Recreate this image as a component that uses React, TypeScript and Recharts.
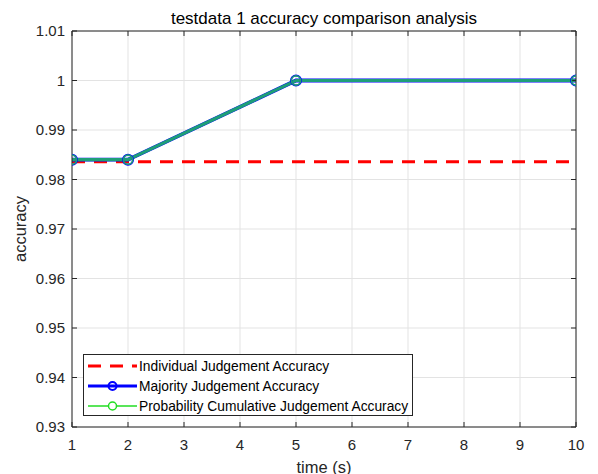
import { CartesianGrid, Label, Legend, Line, LineChart, XAxis, YAxis } from "recharts";

const times = [1, 2, 5, 10];
const individualAccuracy = [0.9836, 0.9836, 0.9836, 0.9836];
const majorityAccuracy = [0.984, 0.984, 1, 1];
const probabilityAccuracy = [0.984, 0.984, 1, 1];

const xTicks = [1, 2, 3, 4, 5, 6, 7, 8, 9, 10];
const yTicks = [0.93, 0.94, 0.95, 0.96, 0.97, 0.98, 0.99, 1, 1.01];

const seriesNames = {
  individual: "Individual Judgement Accuracy",
  majority: "Majority Judgement Accuracy",
  probability: "Probability Cumulative Judgement Accuracy",
};

const title = "testdata 1 accuracy comparison analysis";
const xLabel = "time (s)";
const yLabel = "accuracy";

const font = "'Liberation Sans', Arial, sans-serif";
const axisColor = "#262626";
const tealGreen = "#1e9e78";

const data = times.map((t, i) => ({
  t,
  individual: individualAccuracy[i],
  majority: majorityAccuracy[i],
  probability: probabilityAccuracy[i],
}));

function formatY(value: number): string {
  return String(parseFloat(value.toFixed(2)));
}

function renderTitle(props: any) {
  const vb = props.viewBox;
  return (
    <text x={vb.x + vb.width / 2} y={vb.y - 6} textAnchor="middle" fontSize={17} fontFamily={font} fill="#000">
      {title}
    </text>
  );
}

function renderXLabel(props: any) {
  const vb = props.viewBox;
  return (
    <text x={vb.x + vb.width / 2} y={vb.y + 45.5} textAnchor="middle" fontSize={16.5} fontFamily={font} fill={axisColor}>
      {xLabel}
    </text>
  );
}

function renderYLabel(props: any) {
  const vb = props.viewBox;
  const x = vb.x + 25.6;
  const y = vb.y + vb.height / 2;
  return (
    <text x={x} y={y} textAnchor="middle" fontSize={16.5} fontFamily={font} fill={axisColor} transform={`rotate(-90, ${x}, ${y})`}>
      {yLabel}
    </text>
  );
}

function LegendSample({ dataKey }: { dataKey: string }) {
  if (dataKey === "individual") {
    return <line x1={4} x2={53} y1={10} y2={10} stroke="#ff0000" strokeWidth={3} strokeDasharray="13 9" />;
  }
  if (dataKey === "majority") {
    return (
      <g>
        <line x1={4} x2={53} y1={10} y2={10} stroke="#0000ff" strokeWidth={3} />
        <circle cx={28.5} cy={10} r={4} stroke="#0000ff" strokeWidth={2} fill="none" />
      </g>
    );
  }
  return (
    <g>
      <line x1={4} x2={53} y1={10} y2={10} stroke="#22dd22" strokeWidth={1.5} />
      <circle cx={28.5} cy={10} r={4} stroke="#22dd22" strokeWidth={1.5} fill="#fff" />
    </g>
  );
}

function renderLegend(props: any) {
  const payload = props.payload || [];
  return (
    <div
      style={{
        width: 330,
        height: 62,
        boxSizing: "border-box",
        border: `1px solid ${axisColor}`,
        background: "#fff",
        position: "relative",
      }}
    >
      {payload.map((entry: any, i: number) => (
        <div
          key={entry.dataKey}
          style={{ position: "absolute", left: 0, top: 1 + i * 20, height: 20, display: "flex", alignItems: "center" }}
        >
          <svg width={55} height={20} style={{ display: "block" }}>
            <LegendSample dataKey={entry.dataKey} />
          </svg>
          <span style={{ fontSize: 13.8, fontFamily: font, color: "#000", whiteSpace: "nowrap" }}>{entry.value}</span>
        </div>
      ))}
    </div>
  );
}

export default function App() {
  const tickStyle = { fill: axisColor, fontSize: 15, fontFamily: font };
  return (
    <div style={{ position: "absolute", left: 0, top: 0, background: "#fff" }}>
      <LineChart width={598} height={474} data={data} margin={{ top: 30, right: 21, bottom: 0, left: 0 }}>
        <CartesianGrid stroke="#e3e3e3" />
        <XAxis
          dataKey="t"
          type="number"
          domain={[1, 10]}
          ticks={xTicks}
          allowDataOverflow
          height={47}
          tickSize={-5}
          tickMargin={17}
          tick={tickStyle}
          axisLine={{ stroke: axisColor }}
          tickLine={{ stroke: axisColor }}
        >
          <Label content={renderXLabel} />
        </XAxis>
        <XAxis
          xAxisId="top"
          dataKey="t"
          orientation="top"
          type="number"
          domain={[1, 10]}
          ticks={xTicks}
          allowDataOverflow
          height={1}
          tickSize={-5}
          tickFormatter={() => ""}
          axisLine={{ stroke: axisColor }}
          tickLine={{ stroke: axisColor }}
        >
          <Label content={renderTitle} />
        </XAxis>
        <YAxis
          type="number"
          domain={[0.93, 1.01]}
          ticks={yTicks}
          allowDataOverflow
          width={72}
          tickSize={-5}
          tickMargin={12}
          tickFormatter={formatY}
          tick={tickStyle}
          axisLine={{ stroke: axisColor }}
          tickLine={{ stroke: axisColor }}
        >
          <Label content={renderYLabel} />
        </YAxis>
        <YAxis
          yAxisId="right"
          orientation="right"
          type="number"
          domain={[0.93, 1.01]}
          ticks={yTicks}
          allowDataOverflow
          width={1}
          tickSize={-5}
          tickFormatter={() => ""}
          axisLine={{ stroke: axisColor }}
          tickLine={{ stroke: axisColor }}
        />
        <Legend
          layout="horizontal"
          verticalAlign="middle"
          align="center"
          content={renderLegend}
          wrapperStyle={{ left: 83, top: 354, width: 330, height: 62 }}
        />
        <Line
          xAxisId="top"
          yAxisId="right"
          type="linear"
          dataKey="individual"
          name={seriesNames.individual}
          stroke="#ff0000"
          strokeWidth={3}
          strokeDasharray="13 9"
          dot={false}
          activeDot={false}
          isAnimationActive={false}
        />
        <Line
          type="linear"
          dataKey="majority"
          name={seriesNames.majority}
          stroke="#0000ff"
          strokeWidth={3.8}
          dot={{ r: 5, stroke: "#0000ff", strokeWidth: 2, fill: "none" }}
          activeDot={false}
          isAnimationActive={false}
        />
        <Line
          type="linear"
          dataKey="probability"
          name={seriesNames.probability}
          stroke={tealGreen}
          strokeWidth={3.2}
          dot={{ r: 4.6, stroke: tealGreen, strokeWidth: 1.6, fill: "none" }}
          activeDot={false}
          isAnimationActive={false}
        />
      </LineChart>
    </div>
  );
}
